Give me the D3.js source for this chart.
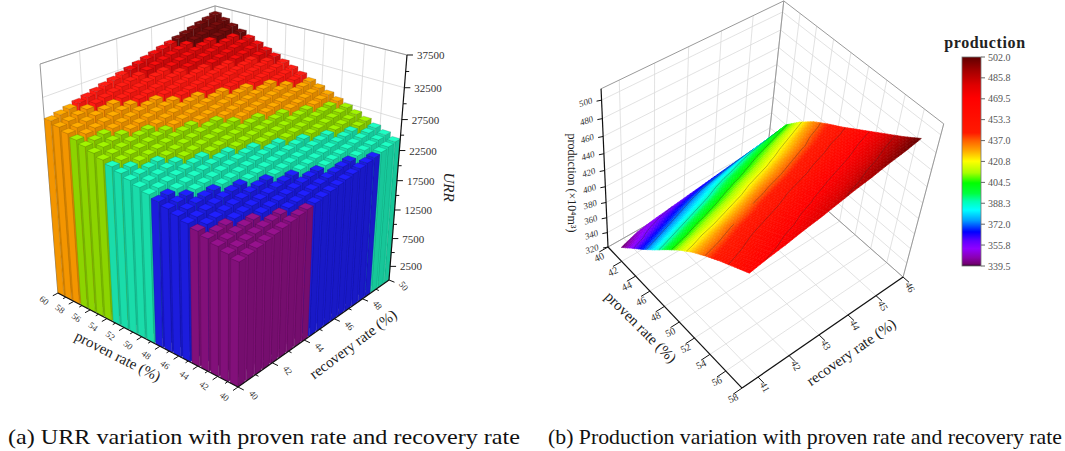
<!DOCTYPE html>
<meta charset="utf-8">
<script src="https://d3js.org/d3.v7.min.js"></script>
<style>body{margin:0;background:#fff}</style>
<div id="chart"></div>
<script>
// ---------- (a) URR bars ----------
const provenA = [40,41,42,43,44,45,46,47,48,49,50,51,52,53,54,55,56,57,58,59,60];
const recoveryA = [40,40.5,41,41.5,42,42.5,43,43.5,44,44.5,45,45.5,46,46.5,47,47.5,48,48.5,49,49.5,50];
// URR, one row per proven rate, one column per recovery rate
const urr = [
  [19520,19760,20010,20250,20500,20740,20980,21230,21470,21720,21960,22200,22450,22690,22940,23180,23420,23670,23910,24160,24400],
  [20010,20260,20510,20760,21010,21260,21510,21760,22010,22260,22510,22760,23010,23260,23510,23760,24010,24260,24510,24760,25010],
  [20500,20750,21010,21260,21520,21780,22030,22290,22550,22800,23060,23310,23570,23830,24080,24340,24600,24850,25110,25360,25620],
  [20980,21250,21510,21770,22030,22300,22560,22820,23080,23340,23610,23870,24130,24390,24660,24920,25180,25440,25710,25970,26230],
  [21470,21740,22010,22280,22550,22810,23080,23350,23620,23890,24160,24420,24690,24960,25230,25500,25770,26030,26300,26570,26840],
  [21960,22230,22510,22780,23060,23330,23610,23880,24160,24430,24710,24980,25250,25530,25800,26080,26350,26630,26900,27180,27450],
  [22450,22730,23010,23290,23570,23850,24130,24410,24690,24970,25250,25530,25820,26100,26380,26660,26940,27220,27500,27780,28060],
  [22940,23220,23510,23800,24080,24370,24660,24940,25230,25520,25800,26090,26380,26660,26950,27240,27520,27810,28100,28380,28670],
  [23420,23720,24010,24300,24600,24890,25180,25470,25770,26060,26350,26650,26940,27230,27520,27820,28110,28400,28690,28990,29280],
  [23910,24210,24510,24810,25110,25410,25710,26000,26300,26600,26900,27200,27500,27800,28100,28400,28690,28990,29290,29590,29890],
  [24400,24710,25010,25320,25620,25930,26230,26540,26840,27150,27450,27760,28060,28370,28670,28980,29280,29590,29890,30200,30500],
  [24890,25200,25510,25820,26130,26440,26760,27070,27380,27690,28000,28310,28620,28930,29240,29560,29870,30180,30490,30800,31110],
  [25380,25690,26010,26330,26650,26960,27280,27600,27910,28230,28550,28870,29180,29500,29820,30130,30450,30770,31090,31400,31720],
  [25860,26190,26510,26830,27160,27480,27800,28130,28450,28770,29100,29420,29740,30070,30390,30710,31040,31360,31680,32010,32330],
  [26350,26680,27010,27340,27670,28000,28330,28660,28990,29320,29650,29980,30300,30630,30960,31290,31620,31950,32280,32610,32940],
  [26840,27180,27510,27850,28180,28520,28850,29190,29520,29860,30200,30530,30870,31200,31540,31870,32210,32540,32880,33220,33550],
  [27330,27670,28010,28350,28690,29040,29380,29720,30060,30400,30740,31090,31430,31770,32110,32450,32790,33140,33480,33820,34160],
  [27820,28160,28510,28860,29210,29550,29900,30250,30600,30950,31290,31640,31990,32340,32680,33030,33380,33730,34070,34420,34770],
  [28300,28660,29010,29370,29720,30070,30430,30780,31130,31490,31840,32200,32550,32900,33260,33610,33960,34320,34670,35030,35380],
  [28790,29150,29510,29870,30230,30590,30950,31310,31670,32030,32390,32750,33110,33470,33830,34190,34550,34910,35270,35630,35990],
  [29280,29650,30010,30380,30740,31110,31480,31840,32210,32570,32940,33310,33670,34040,34400,34770,35140,35500,35870,36230,36600]
];
const urrColors = ["#82107a","#1c1cdc","#1adcaa","#8cd400","#f39500","#ff1a12","#d80c0c","#6a0c0c"];
const urrTicks = [2500,7500,12500,17500,22500,27500,32500,37500];
const provenTicksA = [40,42,44,46,48,50,52,54,56,58,60];
const recoveryTicksA = [40,42,44,46,48,50];

// ---------- (b) production surface ----------
const provenB = [42,43.55,45.1,46.65,48.2,49.75,51.3,52.85,54.4,55.95,57.5];
const recoveryB = [40.5,41,41.5,42,42.5,43,43.5,44,44.5,45,45.5];
const production = [
  [339.5,348,352,355,358,361,364,367,370,373,376],
  [354,359,364,369,374,379,383,388,393,398,403],
  [368,373,378,383,388,394,399,404,409,414,419],
  [383,388,393,398,403,408,412,417,422,427,432],
  [399,403,408,412,416,421,425,429,433,438,442],
  [414,418,421,425,429,433,436,440,444,447,451],
  [427,430,434,437,441,444,447,451,454,458,461],
  [438,441,445,448,451,455,458,461,464,468,471],
  [448,451,455,458,461,465,468,471,474,478,481],
  [457,460,464,467,471,474,477,481,484,488,491],
  [466,470,473,477,480,484,488,491,495,498,502]
];
const prodTicks = [320,340,360,380,400,420,440,460,480,500];
const provenTicksB = [40,42,44,46,48,50,52,54,56,58];
const recoveryTicksB = [41,42,43,44,45,46];
const barTicks = [339.5,355.8,372.0,388.3,404.5,420.8,437.0,453.3,469.5,485.8,502.0];
const stopValues = [339.5,341,346,353,359,366,375,383,390,396,404,412,421,430,437,443,470,480,492,502];
const stopColors = ["#200020","#700070","#8a00b0","#9000ff","#6000ff","#0000ff","#00a0ff","#00ffff","#00ffb0","#00ff40","#00ff00","#a8ff00","#ffff00","#ffa000","#ff6000","#ff1a00","#ff0000","#e00000","#a00000","#600000"];

// ---------- helpers ----------
// perspective mapping of unit-cube coordinates (u,v,w) to screen
function makeProj(o, vu, lu, vv, lv, vw, lw) {
  return function(u, v, w) {
    const a = u * lu, b = v * lv, c = w * lw, D = 1 + a + b + c;
    return [(o[0] + a * vu[0] + b * vv[0] + c * vw[0]) / D,
            (o[1] + a * vu[1] + b * vv[1] + c * vw[1]) / D];
  };
}
const line = d3.line();
const poly = (pts, proj) => line(pts.map(p => proj(p[0], p[1], p[2]))) + "Z";
const seg = (a, b, proj) => line([proj(a[0], a[1], a[2]), proj(b[0], b[1], b[2])]);

const svg = d3.select("#chart").append("svg")
  .attr("width", 1065).attr("height", 451)
  .attr("font-family", "'Liberation Serif', 'Times New Roman', serif");

// =============== chart (a) ===============
const projA = makeProj([238,387], [-1173,-349], 0.1463, [1271,-345], 0.1712, [221,2381], -0.1133);
const uA = d3.scaleLinear().domain([40,60]).range([0,1]);
const vA = d3.scaleLinear().domain([40,50]).range([0,1]);
const wA = d3.scaleLinear().domain([0,37500]).range([0,1]);
const uBand = d3.scaleBand().domain(provenA).range([0,1]).paddingInner(0.2);
const vBand = d3.scaleBand().domain(recoveryA).range([0,1]).paddingInner(0.2);
const colorA = d3.scaleQuantize().domain([d3.min(urr.flat()), d3.max(urr.flat())]).range(urrColors);

const gA = svg.append("g");
// back walls grid
const gridA = gA.append("g").attr("stroke", "#d6d6d6").attr("stroke-width", 0.8).attr("fill", "none");
urrTicks.forEach(t => {
  gridA.append("path").attr("d", seg([1,0,wA(t)],[1,1,wA(t)], projA));
  gridA.append("path").attr("d", seg([1,1,wA(t)],[0,1,wA(t)], projA));
});
recoveryTicksA.slice(1,-1).forEach(t => gridA.append("path").attr("d", seg([1,vA(t),0],[1,vA(t),1], projA)));
provenTicksA.slice(1,-1).forEach(t => gridA.append("path").attr("d", seg([uA(t),1,0],[uA(t),1,1], projA)));
const frameA = gA.append("g").attr("stroke", "#9a9a9a").attr("stroke-width", 1).attr("fill", "none");
[[[1,0,0],[1,0,1]],[[1,0,1],[1,1,1]],[[1,1,1],[0,1,1]],[[1,1,0],[1,1,1]]]
  .forEach(e => frameA.append("path").attr("d", seg(e[0], e[1], projA)));

// bars, far to near
const bars = [];
for (let i = provenA.length - 1; i >= 0; i--)
  for (let j = recoveryA.length - 1; j >= 0; j--)
    bars.push({p: provenA[i], r: recoveryA[j], val: urr[i][j]});
gA.append("g").selectAll("g").data(bars).join("g").each(function(d) {
  const u0 = uBand(d.p), u1 = u0 + uBand.bandwidth();
  const v0 = vBand(d.r), v1 = v0 + vBand.bandwidth();
  const w = wA(d.val), c = d3.color(colorA(d.val));
  const faces = [
    {pts: [[u0,v0,0],[u0,v1,0],[u0,v1,w],[u0,v0,w]], fill: c.darker(0.3)},
    {pts: [[u0,v0,0],[u1,v0,0],[u1,v0,w],[u0,v0,w]], fill: c},
    {pts: [[u0,v0,w],[u1,v0,w],[u1,v1,w],[u0,v1,w]], fill: c.brighter(0.4)}
  ];
  d3.select(this).selectAll("path").data(faces).join("path")
    .attr("d", f => poly(f.pts, projA))
    .attr("fill", f => f.fill)
    .attr("stroke", c.darker(1.3)).attr("stroke-width", 0.3);
});

// axes (a)
const axA = gA.append("g").attr("stroke", "#111").attr("fill", "none");
axA.append("path").attr("d", seg([0,0,0],[1,0,0], projA)).attr("stroke-width", 1.2);
axA.append("path").attr("d", seg([0,0,0],[0,1,0], projA)).attr("stroke-width", 1.2);
axA.append("path").attr("d", seg([0,1,0],[0,1,1], projA)).attr("stroke-width", 1.2);
d3.range(40, 61, 1).forEach(t => axA.append("path")
  .attr("d", seg([uA(t),0,0],[uA(t), t % 2 ? -0.015 : -0.028, 0], projA)));
d3.range(40, 51, 1).forEach(t => axA.append("path")
  .attr("d", seg([0,vA(t),0],[t % 2 ? -0.015 : -0.028, vA(t), 0], projA)));
urrTicks.forEach(t => {
  const p = projA(0, 1, wA(t));
  axA.append("path").attr("d", line([p, [p[0] + 6, p[1]]]));
  if (t + 2500 < 37500) {
    const m = projA(0, 1, wA(t + 2500));
    axA.append("path").attr("d", line([m, [m[0] + 3.5, m[1]]]));
  }
});
const lblA = gA.append("g").attr("fill", "#333").attr("font-size", 10);
provenTicksA.forEach(t => {
  const p = projA(uA(t), -0.075, 0);
  lblA.append("text").attr("transform", `translate(${p[0]},${p[1]}) rotate(38)`)
    .attr("text-anchor", "middle").attr("dy", "0.35em").attr("font-size", 9).text(t);
});
recoveryTicksA.forEach(t => {
  const p = projA(-0.075, vA(t), 0);
  lblA.append("text").attr("transform", `translate(${p[0]},${p[1]}) rotate(52)`)
    .attr("text-anchor", "middle").attr("dy", "0.35em").attr("font-size", 9).text(t);
});
urrTicks.forEach(t => {
  const p = projA(0, 1, wA(t));
  lblA.append("text").attr("x", p[0] + 10).attr("y", p[1] + 4).attr("font-size", 11).text(t);
});
gA.append("text").attr("transform", "translate(118,356) rotate(27)").attr("text-anchor", "middle")
  .attr("dy", "0.35em").attr("font-size", 15).attr("fill", "#222").text("proven rate (%)");
gA.append("text").attr("transform", "translate(353,344) rotate(-37)").attr("text-anchor", "middle")
  .attr("dy", "0.35em").attr("font-size", 15).attr("fill", "#222").text("recovery rate (%)");
gA.append("text").attr("transform", "translate(449,187) rotate(90)").attr("text-anchor", "middle")
  .attr("dy", "0.35em").attr("font-size", 15).attr("font-style", "italic").attr("fill", "#222").text("URR");

// =============== chart (b) ===============
const projB = makeProj([608,247], [-736,-1167], -0.0907, [2505,-827], 0.0914, [651,1227], -0.139);
const uB = d3.scaleLinear().domain([40,58]).range([0,1]);
const vB = d3.scaleLinear().domain([40.5,46]).range([0,1]);
const wB = d3.scaleLinear().domain([320,512]).range([0,1]);
const colorB = d3.scaleLinear().domain(stopValues).range(stopColors).clamp(true);

const gB = svg.append("g");
const gridB = gB.append("g").attr("stroke", "#dadada").attr("stroke-width", 0.8).attr("fill", "none");
prodTicks.forEach(t => {
  gridB.append("path").attr("d", seg([0,0,wB(t)],[0,1,wB(t)], projB));
  gridB.append("path").attr("d", seg([0,1,wB(t)],[1,1,wB(t)], projB));
});
recoveryTicksB.forEach(t => {
  gridB.append("path").attr("d", seg([0,vB(t),0],[0,vB(t),1], projB));
  gridB.append("path").attr("d", seg([0,vB(t),0],[1,vB(t),0], projB));
});
provenTicksB.forEach(t => {
  gridB.append("path").attr("d", seg([uB(t),1,0],[uB(t),1,1], projB));
  gridB.append("path").attr("d", seg([uB(t),0,0],[uB(t),1,0], projB));
});
const frameB = gB.append("g").attr("stroke", "#9a9a9a").attr("stroke-width", 1).attr("fill", "none");
[[[0,0,1],[0,1,1]],[[0,1,1],[1,1,1]],[[0,1,0],[0,1,1]],[[1,1,0],[1,1,1]],[[1,1,0],[0,1,0]],[[0,0,0],[0,1,0]]]
  .forEach(e => frameB.append("path").attr("d", seg(e[0], e[1], projB)));

// surface: each data cell shaded in small facets, drawn far to near
const camB = [2.88, -1.89];
const facets = [];
const nSub = 5;
for (let i = 0; i < provenB.length - 1; i++) {
  for (let j = 0; j < recoveryB.length - 1; j++) {
    const z00 = production[i][j], z10 = production[i+1][j], z01 = production[i][j+1], z11 = production[i+1][j+1];
    const at = (s, t) => [
      uB(provenB[i] + s * (provenB[i+1] - provenB[i])),
      vB(recoveryB[j] + t * (recoveryB[j+1] - recoveryB[j])),
      z00 * (1-s) * (1-t) + z10 * s * (1-t) + z01 * (1-s) * t + z11 * s * t
    ];
    for (let a = 0; a < nSub; a++) for (let b = 0; b < nSub; b++) {
      const c = [at(a/nSub, b/nSub), at((a+1)/nSub, b/nSub), at((a+1)/nSub, (b+1)/nSub), at(a/nSub, (b+1)/nSub)];
      const mu = d3.mean(c, q => q[0]), mv = d3.mean(c, q => q[1]);
      facets.push({pts: c.map(q => [q[0], q[1], wB(q[2])]), val: d3.mean(c, q => q[2]),
        dist: Math.hypot(mu - camB[0], mv - camB[1])});
    }
  }
}
facets.sort((a, b) => b.dist - a.dist);
gB.append("g").selectAll("path").data(facets).join("path")
  .attr("d", f => poly(f.pts, projB))
  .attr("fill", f => colorB(f.val))
  .attr("stroke", f => colorB(f.val)).attr("stroke-width", 0.6).attr("stroke-linejoin", "round");

// contour lines on the surface
const contourLevels = barTicks.slice(1, -1);
const cg = gB.append("g").attr("stroke", "#2a2a2a").attr("stroke-opacity", 0.55).attr("stroke-width", 0.6).attr("fill", "none");
for (let i = 0; i < provenB.length - 1; i++) {
  for (let j = 0; j < recoveryB.length - 1; j++) {
    const node = (di, dj) => [provenB[i+di], recoveryB[j+dj], production[i+di][j+dj]];
    const tris = [[node(0,0), node(1,0), node(1,1)], [node(0,0), node(1,1), node(0,1)]];
    tris.forEach(tr => contourLevels.forEach(L => {
      const pts = [];
      for (let k = 0; k < 3; k++) {
        const A = tr[k], B = tr[(k+1) % 3];
        if ((A[2] - L) * (B[2] - L) < 0) {
          const f = (L - A[2]) / (B[2] - A[2]);
          pts.push([uB(A[0] + f * (B[0] - A[0])), vB(A[1] + f * (B[1] - A[1])), wB(L)]);
        }
      }
      if (pts.length === 2) cg.append("path").attr("d", seg(pts[0], pts[1], projB));
    }));
  }
}

// axes (b)
const axB = gB.append("g").attr("stroke", "#111").attr("fill", "none").attr("stroke-width", 1.2);
axB.append("path").attr("d", seg([0,0,0],[1,0,0], projB));
axB.append("path").attr("d", seg([1,0,0],[1,1,0], projB));
axB.append("path").attr("d", seg([0,0,0],[0,0,1], projB));
provenTicksB.forEach(t => axB.append("path").attr("d", seg([uB(t),0,0],[uB(t),-0.05,0], projB)).attr("stroke-width", 1));
recoveryTicksB.forEach(t => axB.append("path").attr("d", seg([1,vB(t),0],[1.04,vB(t),0], projB)).attr("stroke-width", 1));
prodTicks.forEach(t => {
  const p = projB(0, 0, wB(t));
  axB.append("path").attr("d", line([p, [p[0] - 5, p[1] + 1]])).attr("stroke-width", 1);
});
const lblB = gB.append("g").attr("fill", "#333").attr("font-size", 10);
provenTicksB.forEach(t => {
  const p = projB(uB(t), 0, 0);
  lblB.append("text").attr("transform", `translate(${p[0] - 9},${p[1] + 10}) rotate(-25)`)
    .attr("text-anchor", "middle").attr("dy", "0.35em").text(t);
});
recoveryTicksB.forEach(t => {
  const p = projB(1, vB(t), 0);
  lblB.append("text").attr("transform", `translate(${p[0] + 7},${p[1] + 10}) rotate(62)`)
    .attr("text-anchor", "middle").attr("dy", "0.35em").text(t);
});
prodTicks.forEach(t => {
  const p = projB(0, 0, wB(t));
  lblB.append("text").attr("transform", `translate(${p[0] - 16},${p[1] + 2}) rotate(-18)`)
    .attr("text-anchor", "middle").attr("dy", "0.35em").attr("font-size", 9).attr("font-style", "italic").text(t);
});
gB.append("text").attr("transform", "translate(641,327) rotate(45)").attr("text-anchor", "middle")
  .attr("dy", "0.35em").attr("font-size", 15).attr("fill", "#222").text("proven rate (%)");
gB.append("text").attr("transform", "translate(851,352) rotate(-35)").attr("text-anchor", "middle")
  .attr("dy", "0.35em").attr("font-size", 15).attr("fill", "#222").text("recovery rate (%)");
gB.append("text").attr("transform", "translate(572,183) rotate(90)").attr("text-anchor", "middle")
  .attr("dy", "0.35em").attr("font-size", 12).attr("fill", "#222").text("production (×10⁴m³)");

// colour bar
const barY = d3.scaleLinear().domain([339.5, 502]).range([266, 57]);
const grad = svg.append("defs").append("linearGradient").attr("id", "prodGrad")
  .attr("x1", 0).attr("y1", 1).attr("x2", 0).attr("y2", 0);
grad.selectAll("stop").data(stopValues).join("stop")
  .attr("offset", d => (d - 339.5) / (502 - 339.5))
  .attr("stop-color", (d, i) => stopColors[i]);
const gC = svg.append("g");
gC.append("rect").attr("x", 962).attr("y", barY(502)).attr("width", 19).attr("height", barY(339.5) - barY(502))
  .attr("fill", "url(#prodGrad)").attr("stroke", "#777").attr("stroke-width", 0.8);
barTicks.forEach(t => {
  gC.append("line").attr("x1", 981).attr("x2", 985).attr("y1", barY(t)).attr("y2", barY(t)).attr("stroke", "#666");
  gC.append("text").attr("x", 988).attr("y", barY(t)).attr("dy", "0.35em").attr("font-size", 10)
    .attr("fill", "#555").text(t.toFixed(1));
});
gC.append("text").attr("x", 985).attr("y", 48).attr("text-anchor", "middle").attr("font-size", 16)
  .attr("font-weight", "bold").attr("fill", "#222").attr("letter-spacing", 0.6).text("production");

// captions
svg.append("text").attr("x", 8).attr("y", 444).attr("font-size", 21).attr("fill", "#111")
  .attr("textLength", 512).attr("lengthAdjust", "spacingAndGlyphs")
  .text("(a) URR variation with proven rate and recovery rate");
svg.append("text").attr("x", 548).attr("y", 444).attr("font-size", 21).attr("fill", "#111")
  .attr("textLength", 514).attr("lengthAdjust", "spacingAndGlyphs")
  .text("(b) Production variation with proven rate and recovery rate");
</script>
